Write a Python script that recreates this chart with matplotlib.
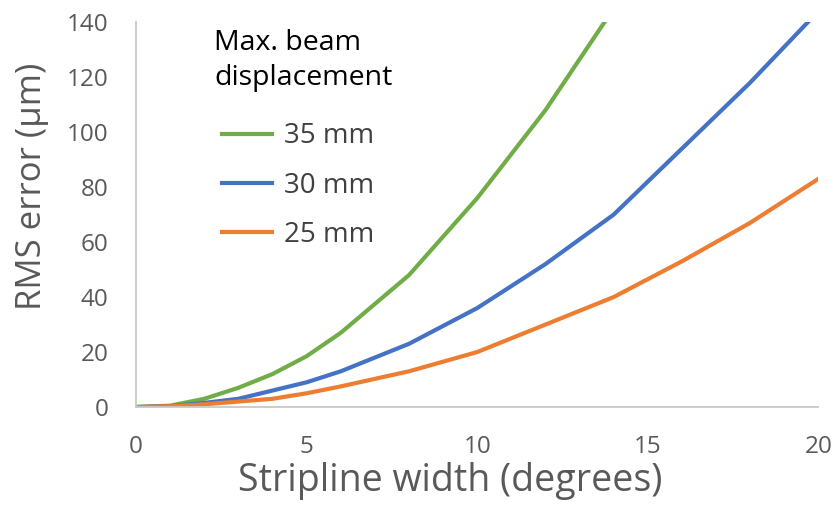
import matplotlib
matplotlib.use("Agg")
import matplotlib.pyplot as plt

x = [0, 1, 2, 3, 4, 5, 6, 8, 10, 12, 14, 16, 18, 20]
green_35 = [0, 0.5, 3, 7, 12, 18.5, 27, 48, 76, 108, 145, 190, 240, 295]
blue_30 = [0, 0.3, 1.5, 3, 6, 9, 13, 23, 36, 52, 70, 94, 118, 144]
orange_25 = [0, 0.3, 1, 2, 3, 5, 7.5, 13, 20, 30, 40, 53, 67, 83]
labels = ["35 mm", "30 mm", "25 mm"]
colors = ["#70AD47", "#4472C4", "#ED7D31"]
legend_title = "Max. beam\ndisplacement"

plt.rcParams['font.family'] = ['Open Sans', 'DejaVu Sans']

fig = plt.figure(figsize=(8.35, 5.05), dpi=100)
ax = fig.add_axes([0.163, 0.194, 0.817, 0.762])
for ys, lab, c in zip([green_35, blue_30, orange_25], labels, colors):
    ax.plot(x, ys, color=c, lw=3, label=lab, solid_joinstyle='round')

ax.set_xlim(0, 20)
ax.set_ylim(0, 140)
ax.set_xticks([0, 5, 10, 15, 20])
ax.set_yticks(range(0, 141, 20))
ax.tick_params(length=0, labelsize=17.5, labelcolor='#595959')
ax.tick_params(axis='y', pad=20)
ax.tick_params(axis='x', pad=20)
for s in ['top', 'right']:
    ax.spines[s].set_visible(False)
for s in ['left', 'bottom']:
    ax.spines[s].set_color('#C8C8C8')
    ax.spines[s].set_linewidth(1.3)

ax.set_xlabel("Stripline width (degrees)", fontsize=27, color='#595959')
ax.set_ylabel("RMS error (\u03bcm)", fontsize=25, color='#595959')
ax.xaxis.set_label_coords(0.46, -0.142)
ax.yaxis.set_label_coords(-0.128, 0.574)

ax.text(0.114, 0.836, legend_title, transform=ax.transAxes, fontsize=20.5,
        color='#000000', ha='left', va='baseline', linespacing=1.35)

leg = ax.legend(loc='upper left', bbox_to_anchor=(0.098, 0.79),
                frameon=False, fontsize=20, handlelength=1.8,
                handletextpad=0.4, labelspacing=0.76, borderpad=0.2)
for t in leg.get_texts():
    t.set_color('#404040')

fig.savefig("out.png", dpi=100)
